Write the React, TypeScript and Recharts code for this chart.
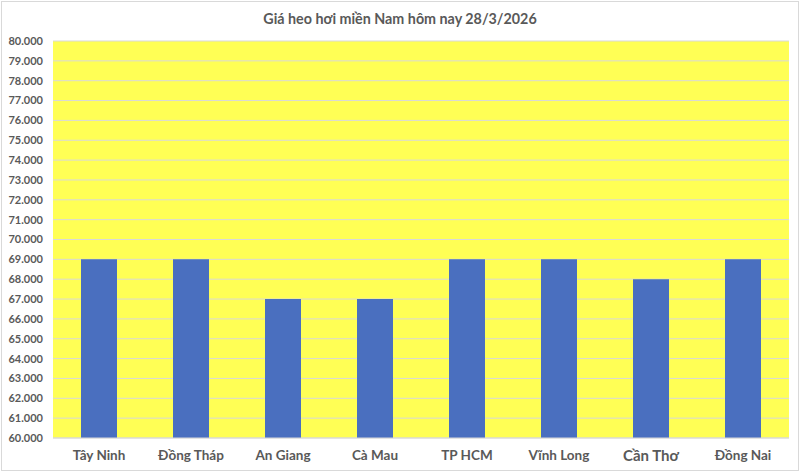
import { BarChart, Bar, XAxis, YAxis, CartesianGrid } from 'recharts'

const provinces = ['Tây Ninh', 'Đồng Tháp', 'An Giang', 'Cà Mau', 'TP HCM', 'Vĩnh Long', 'Cần Thơ', 'Đồng Nai']
const prices = [69000, 69000, 67000, 67000, 69000, 69000, 68000, 69000]
const yTicks = [60000, 61000, 62000, 63000, 64000, 65000, 66000, 67000, 68000, 69000, 70000,
  71000, 72000, 73000, 74000, 75000, 76000, 77000, 78000, 79000, 80000]

const data = provinces.map((name, i) => ({ name, price: prices[i] }))

const FONT = 'Lato, "Liberation Sans", sans-serif'
const TEXT = '#595959'

function fmtVnd(v: number) {
  const s = String(Math.round(v))
  return s.replace(/\B(?=(\d{3})+(?!\d))/g, '.')
}

function XTick(props: any) {
  const { x, y, payload } = props
  // "Cần Thơ" is set a size larger in the original
  const big = payload.value === 'Cần Thơ'
  return (
    <text x={x} y={y} dy={big ? 15 : 14} textAnchor="middle" fill={TEXT}
      fontFamily={FONT} fontWeight={700} fontSize={big ? 15 : 13.5}>
      {payload.value}
    </text>
  )
}

export default function App() {
  return (
    <div style={{ position: 'fixed', left: 0, top: 0, width: 800, height: 473, background: '#fff' }}>
      <div style={{
        position: 'absolute', left: 1, top: 1, width: 796, height: 468,
        border: '1px solid #d9d9d9', boxSizing: 'content-box',
      }} />
      <div style={{
        position: 'absolute', left: 0, top: 10, width: 800, textAlign: 'center',
        fontFamily: FONT, fontWeight: 700, fontSize: 14.3, color: TEXT,
      }}>
        Giá heo hơi miền Nam hôm nay 28/3/2026
      </div>
      <div style={{ position: 'absolute', left: 0, top: 0 }}>
        <BarChart width={800} height={473} data={data}
          margin={{ top: 41, right: 11, bottom: 0, left: 0 }} barSize={36}>
          <CartesianGrid vertical={false} stroke="#d9d9d9" fill="#FFFF55" fillOpacity={1} />
          <XAxis dataKey="name" height={35} axisLine={{ stroke: '#d9d9d9' }} tickLine={false}
            tick={<XTick />} interval={0} />
          <YAxis domain={[60000, 80000]} ticks={yTicks} width={53} axisLine={false} tickLine={false}
            tickSize={0} tickMargin={10} allowDataOverflow interval={0}
            tickFormatter={fmtVnd}
            tick={{ fill: TEXT, fontSize: 11, fontWeight: 700, fontFamily: FONT }} />
          <Bar dataKey="price" fill="#4A6FBF" isAnimationActive={false} />
        </BarChart>
      </div>
    </div>
  )
}
